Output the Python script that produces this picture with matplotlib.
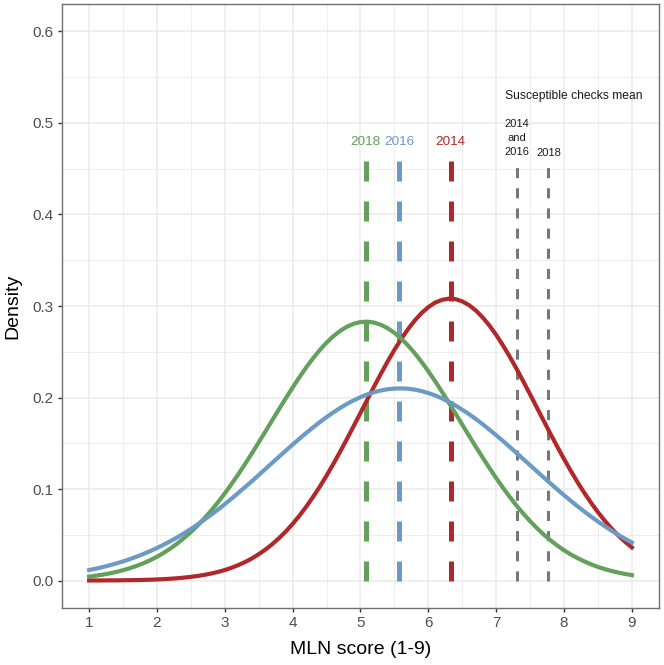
import numpy as np
import matplotlib
matplotlib.use("Agg")
import matplotlib.pyplot as plt
from matplotlib.ticker import MultipleLocator, FormatStrFormatter

plt.rcParams['font.family'] = ['Liberation Sans', 'DejaVu Sans']

# ---- data ----
score = [1.0, 1.1, 1.2, 1.3, 1.4, 1.5, 1.6, 1.7, 1.8, 1.9,
         2.0, 2.1, 2.2, 2.3, 2.4, 2.5, 2.6, 2.7, 2.8, 2.9,
         3.0, 3.1, 3.2, 3.3, 3.4, 3.5, 3.6, 3.7, 3.8, 3.9,
         4.0, 4.1, 4.2, 4.3, 4.4, 4.5, 4.6, 4.7, 4.8, 4.9,
         5.0, 5.1, 5.2, 5.3, 5.4, 5.5, 5.6, 5.7, 5.8, 5.9,
         6.0, 6.1, 6.2, 6.3, 6.4, 6.5, 6.6, 6.7, 6.8, 6.9,
         7.0, 7.1, 7.2, 7.3, 7.4, 7.5, 7.6, 7.7, 7.8, 7.9,
         8.0, 8.1, 8.2, 8.3, 8.4, 8.5, 8.6, 8.7, 8.8, 8.9, 9.0]
dens_2014 = [0.0001, 0.0001, 0.0001, 0.0002, 0.0002, 0.0003, 0.0004, 0.0005, 0.0007, 0.0009,
             0.0012, 0.0015, 0.0020, 0.0025, 0.0032, 0.0040, 0.0050, 0.0062, 0.0077, 0.0094,
             0.0115, 0.0140, 0.0169, 0.0203, 0.0242, 0.0288, 0.0339, 0.0398, 0.0464, 0.0537,
             0.0619, 0.0709, 0.0807, 0.0913, 0.1026, 0.1147, 0.1275, 0.1409, 0.1547, 0.1689,
             0.1832, 0.1977, 0.2119, 0.2259, 0.2394, 0.2521, 0.2639, 0.2747, 0.2842, 0.2923,
             0.2988, 0.3037, 0.3067, 0.3080, 0.3075, 0.3051, 0.3009, 0.2951, 0.2876, 0.2787,
             0.2684, 0.2570, 0.2446, 0.2314, 0.2176, 0.2034, 0.1890, 0.1746, 0.1603, 0.1464,
             0.1328, 0.1198, 0.1074, 0.0957, 0.0848, 0.0747, 0.0654, 0.0569, 0.0492, 0.0423, 0.0362]
dens_2016 = [0.0115, 0.0130, 0.0147, 0.0166, 0.0187, 0.0209, 0.0234, 0.0261, 0.0290, 0.0322,
             0.0356, 0.0392, 0.0431, 0.0473, 0.0517, 0.0564, 0.0614, 0.0666, 0.0720, 0.0776,
             0.0835, 0.0896, 0.0958, 0.1022, 0.1087, 0.1153, 0.1220, 0.1287, 0.1354, 0.1420,
             0.1486, 0.1550, 0.1613, 0.1673, 0.1731, 0.1786, 0.1838, 0.1886, 0.1930, 0.1969,
             0.2004, 0.2034, 0.2058, 0.2077, 0.2090, 0.2098, 0.2100, 0.2096, 0.2086, 0.2070,
             0.2049, 0.2023, 0.1991, 0.1954, 0.1913, 0.1867, 0.1818, 0.1765, 0.1709, 0.1649,
             0.1588, 0.1525, 0.1460, 0.1394, 0.1327, 0.1260, 0.1193, 0.1127, 0.1061, 0.0996,
             0.0933, 0.0871, 0.0811, 0.0754, 0.0698, 0.0645, 0.0594, 0.0545, 0.0499, 0.0456, 0.0416]
dens_2018 = [0.0043, 0.0053, 0.0064, 0.0078, 0.0094, 0.0113, 0.0135, 0.0160, 0.0189, 0.0222,
             0.0260, 0.0303, 0.0351, 0.0405, 0.0465, 0.0530, 0.0602, 0.0681, 0.0765, 0.0856,
             0.0953, 0.1056, 0.1163, 0.1275, 0.1391, 0.1510, 0.1631, 0.1753, 0.1874, 0.1993,
             0.2110, 0.2222, 0.2329, 0.2428, 0.2519, 0.2600, 0.2670, 0.2728, 0.2774, 0.2806,
             0.2825, 0.2829, 0.2819, 0.2795, 0.2757, 0.2707, 0.2643, 0.2569, 0.2484, 0.2389,
             0.2287, 0.2178, 0.2064, 0.1946, 0.1825, 0.1704, 0.1582, 0.1462, 0.1345, 0.1230,
             0.1120, 0.1014, 0.0914, 0.0819, 0.0731, 0.0649, 0.0573, 0.0503, 0.0440, 0.0383,
             0.0331, 0.0285, 0.0245, 0.0209, 0.0177, 0.0149, 0.0125, 0.0105, 0.0087, 0.0072, 0.0059]
years = ['2014', '2016', '2018']
year_means = [6.33, 5.57, 5.08]
check_means = [7.30, 7.77]
check_labels = ['2014\nand\n2016', '2018']
check_title = 'Susceptible checks mean'
line_top = 0.46

colors = {'2014': '#b1282a', '2016': '#6b9bc4', '2018': '#62a05c'}

fig = plt.figure(figsize=(6.64, 6.65), dpi=100)
ax = fig.add_axes([62/664, 57/665, 597/664, 604/665])

ax.set_xlim(0.6, 9.4)
ax.set_ylim(-0.03, 0.63)
ax.xaxis.set_major_locator(MultipleLocator(1))
ax.xaxis.set_minor_locator(MultipleLocator(0.5))
ax.yaxis.set_major_locator(MultipleLocator(0.1))
ax.yaxis.set_minor_locator(MultipleLocator(0.05))
ax.yaxis.set_major_formatter(FormatStrFormatter('%.1f'))
ax.grid(True, which='major', color='#ebebeb', lw=1.1)
ax.grid(True, which='minor', color='#ebebeb', lw=0.6)
ax.set_axisbelow(True)
for s in ax.spines.values():
    s.set_color('#707070')
    s.set_linewidth(1.0)
ax.tick_params(which='major', length=3, width=1.0, color='#333333',
               labelcolor='#4d4d4d', labelsize=11, pad=3)
ax.tick_params(which='minor', length=0)

# vertical mean lines
for y, m in zip(years, year_means):
    ax.plot([m, m], [0, line_top], color=colors[y], lw=3.6, dashes=(4, 4),
            dash_capstyle='butt', zorder=2)
    ax.text(m, 0.479, y, color=colors[y], fontsize=9.7, ha='center', va='center', zorder=4)
for m in check_means:
    ax.plot([m, m], [0, line_top], color='#777777', lw=2.2, dashes=(3.3, 3.3),
            dash_capstyle='butt', zorder=2)
ax.text(check_means[0], 0.4835, check_labels[0], fontsize=8, ha='center', va='center',
        linespacing=1.5, color='#1a1a1a')
ax.text(check_means[1], 0.4675, check_labels[1], fontsize=8, ha='center', va='center',
        color='#1a1a1a')
ax.text(8.14, 0.529, check_title, fontsize=8.7, ha='center', va='center',
        color='#1a1a1a')

# density curves
ax.plot(score, dens_2014, color=colors['2014'], lw=3.0, zorder=3, solid_joinstyle='round')
ax.plot(score, dens_2018, color=colors['2018'], lw=3.0, zorder=3, solid_joinstyle='round')
ax.plot(score, dens_2016, color=colors['2016'], lw=3.0, zorder=3, solid_joinstyle='round')

ax.set_xlabel('MLN score (1-9)', fontsize=14, color='black', labelpad=8)
ax.set_ylabel('Density', fontsize=14, color='black', labelpad=8)

fig.savefig('out.png', dpi=100)
